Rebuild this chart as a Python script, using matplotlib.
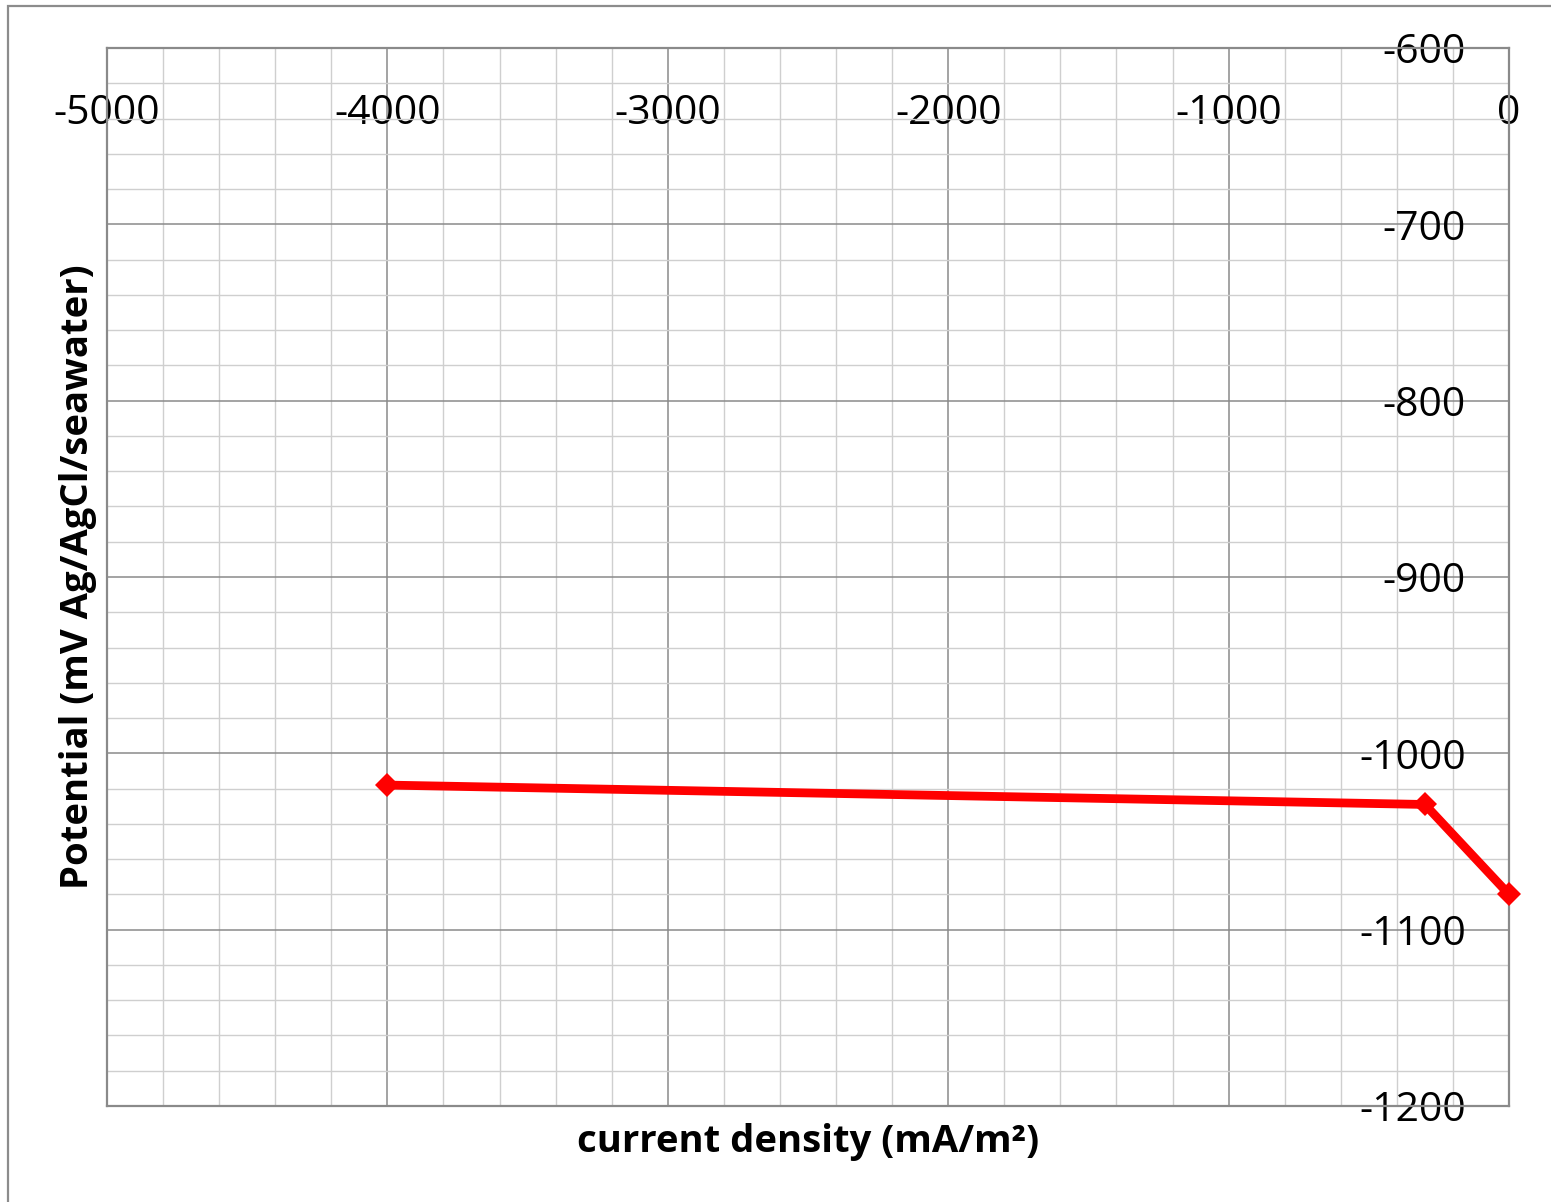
import matplotlib
matplotlib.use("Agg")
import matplotlib.pyplot as plt
from matplotlib.patches import Rectangle
from matplotlib.ticker import MultipleLocator
from matplotlib.font_manager import FontProperties

plt.rcParams["axes.unicode_minus"] = False

# Polarisation data
current_density = [-4000, -300, 0]          # mA/m^2
potential = [-1018, -1029, -1080]           # mV Ag/AgCl/seawater

x_ticks = [-5000, -4000, -3000, -2000, -1000, 0]
y_ticks = [-1200, -1100, -1000, -900, -800, -700, -600]

W, H, DPI = 1551, 1202, 100
fig = plt.figure(figsize=(W / DPI, H / DPI), dpi=DPI)
fig.patch.set_facecolor("white")

# chart-area frame
fig.add_artist(Rectangle((8 / W, -0.05), 1.2, 1 - 6 / H + 0.05,
                         transform=fig.transFigure, fill=False,
                         edgecolor="#8c8c8c", linewidth=1.6, zorder=0))

left, right, top, bottom = 107, 1509, 48, 1106
ax = fig.add_axes([left / W, 1 - bottom / H, (right - left) / W, (bottom - top) / H])

ax.set_xlim(-5000, 0)
ax.set_ylim(-1200, -600)

ax.xaxis.set_minor_locator(MultipleLocator(200))
ax.yaxis.set_minor_locator(MultipleLocator(20))
ax.set_xticks(x_ticks)
ax.set_yticks(y_ticks)

ax.grid(which="major", color="#8a8a8a", linewidth=1.1, zorder=0)
ax.grid(which="minor", color="#cfcfcf", linewidth=1.0, zorder=0)
ax.set_axisbelow(True)

for s in ax.spines.values():
    s.set_color("#8a8a8a")
    s.set_linewidth(1.6)

tick_fp = FontProperties(family=["Open Sans", "DejaVu Sans"], size=29.5)

# x labels sit under the top edge, y labels inside the right edge
ax.xaxis.set_ticks_position("top")
ax.tick_params(axis="x", which="both", length=0, labeltop=True, labelbottom=False, pad=-47)
for t in ax.get_xticklabels():
    t.set_fontproperties(tick_fp)
    t.set_verticalalignment("center")

ax.yaxis.set_ticks_position("right")
ax.tick_params(axis="y", which="both", length=0, labelright=True, labelleft=False, pad=-31)
for t in ax.get_yticklabels():
    t.set_fontproperties(tick_fp)
    t.set_horizontalalignment("right")

ax.plot(current_density, potential, color="#ff0000", linewidth=6.3,
        marker="D", markersize=12, markeredgewidth=0, clip_on=False, zorder=5)

label_font = dict(family=["Open Sans", "DejaVu Sans"], size=27.5, weight="bold")
fig.text((left + right) / 2 / W, 1 - 1142 / H, "current density (mA/m²)",
         ha="center", va="center", **label_font)
fig.text(78 / W, 1 - (top + bottom) / 2 / H, "Potential (mV Ag/AgCl/seawater)",
         ha="center", va="center", rotation=90, **label_font)

fig.savefig("out.png", dpi=DPI, facecolor="white")
